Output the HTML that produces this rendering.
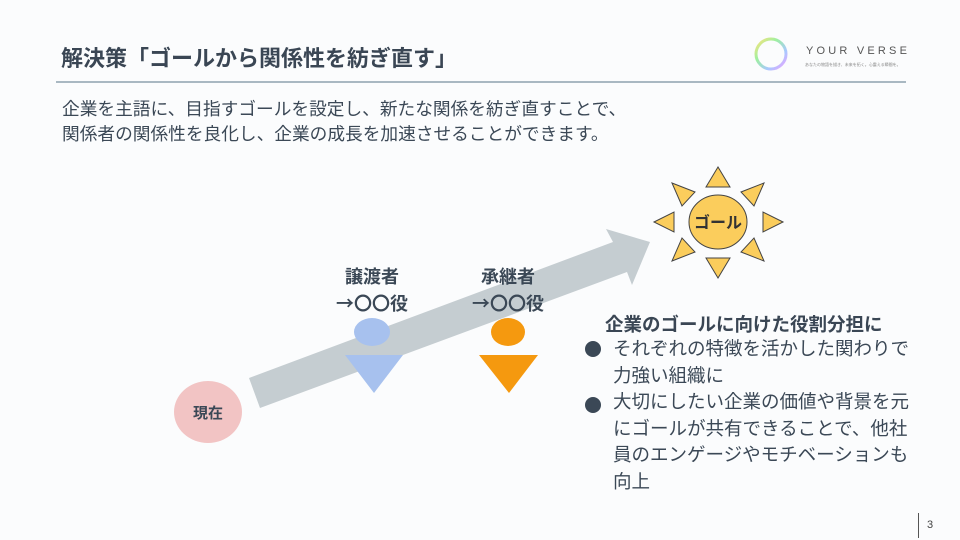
<!DOCTYPE html>
<html><head><meta charset="utf-8"><style>
body{margin:0;width:960px;height:540px;background:#fbfcfd;position:relative;overflow:hidden;font-family:"Liberation Sans","Noto Sans CJK JP",sans-serif;color:#3b4856}
.a{position:absolute;white-space:nowrap}
</style></head><body>
<div class="a" style="left:61px;top:41px;font-size:22px;font-weight:bold;color:#3a4654">解決策「ゴールから関係性を紡ぎ直す」</div>
<div class="a" style="left:56px;top:81px;width:850px;height:2px;background:#a9b8c2"></div>
<div class="a" style="left:62px;top:97px;font-size:17.7px;line-height:25px;color:#3b4856">企業を主語に、目指すゴールを設定し、新たな関係を紡ぎ直すことで、<br>関係者の関係性を良化し、企業の成長を加速させることができます。</div>
<svg class="a" style="left:0;top:0" width="960" height="540">
<defs><linearGradient id="g" x1="0" y1="0" x2="1" y2="1"><stop offset="0" stop-color="#ffe27a"/><stop offset=".35" stop-color="#9ef0a0"/><stop offset=".7" stop-color="#a8c8ff"/><stop offset="1" stop-color="#f0a0ff"/></linearGradient></defs>
<circle cx="771" cy="54" r="15" fill="none" stroke="url(#g)" stroke-width="3"/>
<text x="806" y="54" font-size="11" letter-spacing="3.2" fill="#555" font-family="Liberation Sans">YOUR VERSE</text>
<text x="805" y="66" font-size="4" fill="#888">あなたの物語を描き、未来を拓く。心震える瞬間を。</text>
<polygon points="249,378 613,242 606,229 650,242 632,285 627,272 260,408" fill="#c5cdd1"/>
<ellipse cx="208" cy="412" rx="34" ry="31" fill="#f2c4c4"/>
<text x="208" y="418" font-size="15" font-weight="bold" text-anchor="middle" fill="#3b4856">現在</text>
<ellipse cx="372" cy="332" rx="18" ry="14" fill="#a7c1ee"/>
<polygon points="345,355 403,355 374,393" fill="#a7c1ee"/>
<ellipse cx="508" cy="332" rx="17" ry="14" fill="#f5990f"/>
<polygon points="479,355 538,355 509,393" fill="#f5990f"/>
<g font-size="18" font-weight="bold" text-anchor="middle" fill="#3b4856" font-family="Noto Sans CJK JP, sans-serif">
<text x="372" y="283">譲渡者</text><text x="372" y="310">→〇〇役</text>
<text x="508" y="283">承継者</text><text x="508" y="310">→〇〇役</text></g>
<g fill="#fbcd5c" stroke="#444" stroke-width="1">
<ellipse cx="718" cy="222" rx="29" ry="27"/>
<polygon points="718,167 706,187 730,187"/>
<polygon points="718,278 706,258 730,258"/>
<polygon points="654,222 674,212 674,232"/>
<polygon points="783,222 763,212 763,232"/>
<polygon points="672,183 695,192 682,206"/>
<polygon points="764,183 741,192 754,206"/>
<polygon points="672,261 695,252 682,238"/>
<polygon points="764,261 741,252 754,238"/>
</g>
<text x="718" y="228" font-size="16" font-weight="bold" text-anchor="middle" fill="#333">ゴール</text>
<circle cx="593" cy="349" r="8" fill="#3b4856"/>
<circle cx="593" cy="405" r="8" fill="#3b4856"/>
<line x1="918.5" y1="513" x2="918.5" y2="538" stroke="#555"/>
<text x="927" y="528" font-size="11" fill="#444">3</text>
</svg>
<div class="a" style="left:605px;top:311px;font-size:18.5px;font-weight:bold;color:#3a4654">企業のゴールに向けた役割分担に</div>
<div class="a" style="left:613px;top:336px;font-size:18.5px;line-height:26.5px;color:#3b4856">それぞれの特徴を活かした関わりで<br>力強い組織に<br>大切にしたい企業の価値や背景を元<br>にゴールが共有できることで、他社<br>員のエンゲージやモチベーションも<br>向上</div>
</body></html>
